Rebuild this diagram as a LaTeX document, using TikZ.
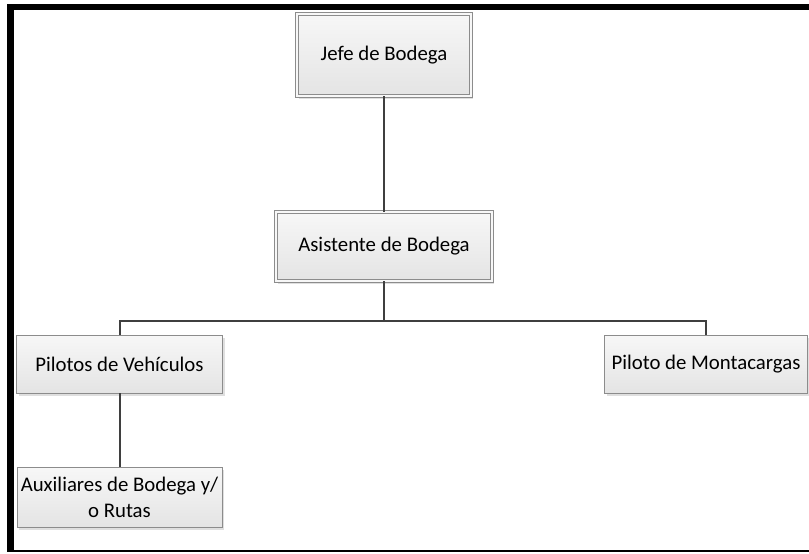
\documentclass[tikz,border=0pt]{standalone}
\usepackage{fontspec}
\setmainfont{Carlito}
\usetikzlibrary{shadows}
\definecolor{linegray}{HTML}{3F3F3F}
\definecolor{boxedge}{HTML}{8C8C8C}
\definecolor{boxtop}{HTML}{F7F7F7}
\definecolor{boxbottom}{HTML}{E4E4E4}
\tikzset{
  orgbox/.style={rectangle, draw=boxedge, line width=0.9pt,
    top color=boxtop, bottom color=boxbottom, inner sep=0pt,
    font=\fontsize{20.8}{26}\selectfont, align=center,
    drop shadow={shadow xshift=2pt, shadow yshift=-2.5pt, opacity=0.25, fill=gray}},
  headbox/.style={orgbox, double=boxtop, double distance=2.2pt, line width=0.9pt},
  link/.style={draw=linegray, line width=2pt}
}
\begin{document}
\begin{tikzpicture}[x=1pt,y=-1pt]
  \useasboundingbox (0,0) rectangle (809,554);
  \fill[white] (0,0) rectangle (809,554);
  % page frame
  \fill[black] (7,4) rectangle (809,10);
  \fill[black] (7,4) rectangle (14,552);
  \fill[black] (7,549.5) rectangle (809,552);

  % boxes
  \node[headbox, minimum width=174pt, minimum height=82pt] (jefe) at (384,55) {Jefe de Bodega};
  \node[headbox, minimum width=216pt, minimum height=69pt] (asist) at (384,246.5) {Asistente de Bodega};
  \node[orgbox, minimum width=206pt, minimum height=58pt] (pil) at (119.5,364) {Pilotos de Vehículos};
  \node[orgbox, minimum width=203pt, minimum height=58pt] (mont) at (706,364) {Piloto de Montacargas};
  \node[orgbox, minimum width=205pt, minimum height=60pt] (aux) at (119.5,497) {Auxiliares de Bodega y/\\o Rutas};

  % connectors
  \coordinate (bus) at (384,321);
  \draw[link] (jefe.south) -- (asist.north);
  \draw[link] (asist.south) -- (bus);
  \draw[link] (bus) -| (pil.north);
  \draw[link] (bus) -| (mont.north);
  \draw[link] (pil.south) -- (aux.north);
\end{tikzpicture}
\end{document}
